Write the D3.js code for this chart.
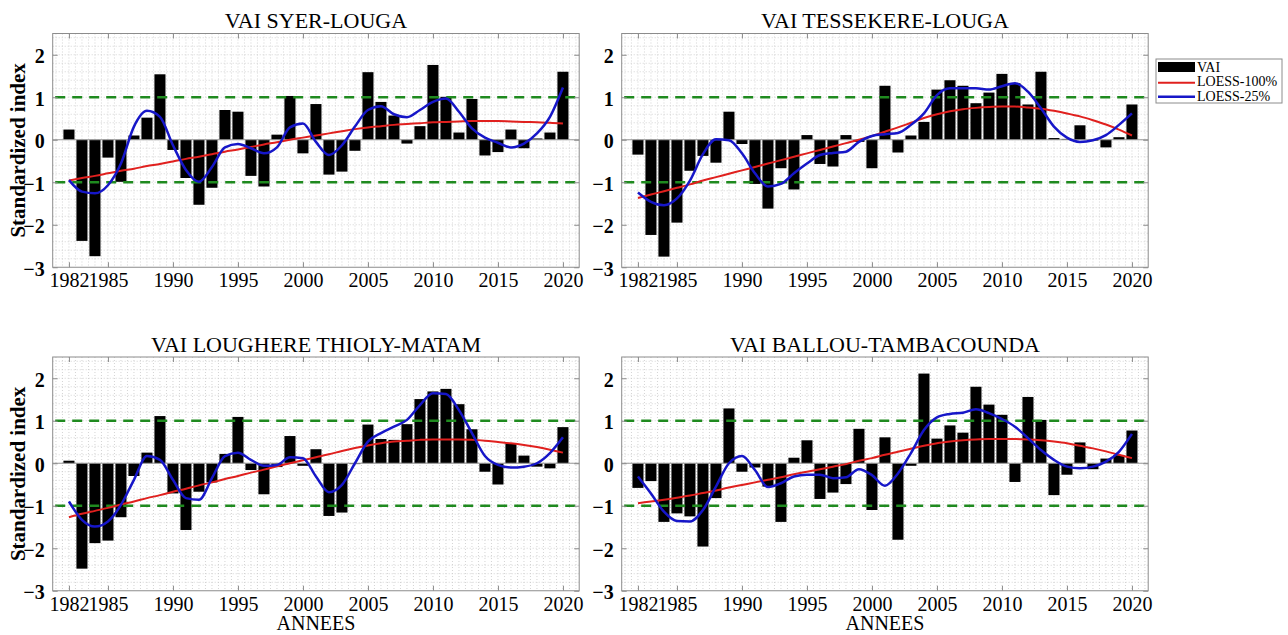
<!DOCTYPE html>
<html>
<head>
<meta charset="utf-8">
<script src="https://cdn.jsdelivr.net/npm/d3@7"></script>
<style>
  html, body { margin: 0; padding: 0; background: #fff; }
  svg { display: block; }
  text { font-family: "Liberation Serif", "Times New Roman", serif; fill: #000; }
</style>
</head>
<body>
<svg id="chart" width="1288" height="635"></svg>
<script>
// Years of the series
const years = d3.range(1982, 2021);

// VAI SYER-LOUGA
const vaiSyer = [0.24,-2.38,-2.74,-0.42,-0.99,0.10,0.52,1.54,-0.24,-0.90,-1.53,-1.13,0.70,0.66,-0.85,-1.10,0.12,1.03,-0.32,0.84,
  -0.82,-0.75,-0.26,1.59,0.89,0.57,-0.09,0.32,1.76,1.01,0.17,0.96,-0.37,-0.29,0.24,-0.20,0.03,0.17,1.60];
const loess100Syer = [-0.96,-0.90,-0.85,-0.79,-0.73,-0.68,-0.62,-0.57,-0.51,-0.45,-0.40,-0.34,-0.28,-0.23,-0.17,-0.11,-0.06,0.00,0.05,0.10,
  0.15,0.20,0.25,0.29,0.32,0.35,0.37,0.39,0.41,0.42,0.43,0.44,0.44,0.44,0.43,0.42,0.41,0.40,0.38];
const loess25Syer = [-0.95,-1.22,-1.26,-1.07,-0.56,0.31,0.68,0.54,-0.13,-0.71,-0.99,-0.64,-0.18,-0.10,-0.20,-0.32,-0.18,0.29,0.38,-0.05,
  -0.36,-0.13,0.31,0.70,0.79,0.60,0.53,0.70,0.89,0.97,0.66,0.27,0.05,-0.07,-0.18,-0.09,0.15,0.54,1.23];

// VAI TESSEKERE-LOUGA
const vaiTessekere = [-0.35,-2.24,-2.75,-1.95,-0.73,-0.38,-0.54,0.66,-0.10,-1.04,-1.62,-0.67,-1.17,0.11,-0.57,-0.63,0.11,-0.05,-0.67,1.27,
  -0.30,0.10,0.42,1.18,1.40,1.27,0.86,1.11,1.55,1.33,0.83,1.60,0.04,0.02,0.34,-0.02,-0.18,0.06,0.83];
const loess100Tessekere = [-1.37,-1.29,-1.21,-1.13,-1.05,-0.96,-0.88,-0.80,-0.72,-0.64,-0.56,-0.48,-0.40,-0.32,-0.24,-0.16,-0.08,0.00,0.09,0.19,
  0.29,0.40,0.51,0.60,0.67,0.72,0.75,0.77,0.78,0.78,0.76,0.73,0.68,0.62,0.55,0.46,0.36,0.24,0.10];
const loess25Tessekere = [-1.24,-1.46,-1.54,-1.38,-0.96,-0.34,0.01,-0.01,-0.32,-0.79,-1.10,-1.04,-0.79,-0.56,-0.36,-0.31,-0.28,-0.05,0.09,0.13,
  0.16,0.35,0.62,1.05,1.21,1.21,1.21,1.18,1.26,1.33,1.13,0.74,0.31,0.05,-0.05,-0.01,0.11,0.35,0.62];

// VAI LOUGHERE THIOLY-MATAM
const vaiLoughere = [0.06,-2.48,-1.88,-1.82,-1.27,-0.30,0.25,1.11,-0.71,-1.57,-0.67,-0.45,0.22,1.09,-0.16,-0.73,-0.09,0.64,-0.06,0.33,
  -1.24,-1.16,-0.02,0.91,0.57,0.55,0.92,1.51,1.69,1.75,1.39,0.80,-0.20,-0.50,0.47,0.18,-0.08,-0.12,0.85];
const loess100Loughere = [-1.27,-1.19,-1.12,-1.05,-0.97,-0.90,-0.82,-0.75,-0.67,-0.60,-0.52,-0.45,-0.37,-0.30,-0.22,-0.15,-0.07,0.00,0.07,0.14,
  0.21,0.29,0.36,0.42,0.47,0.51,0.53,0.55,0.56,0.56,0.56,0.55,0.53,0.50,0.47,0.43,0.38,0.32,0.25];
const loess25Loughere = [-0.90,-1.33,-1.49,-1.37,-0.98,-0.39,0.17,0.08,-0.39,-0.82,-0.86,-0.35,0.17,0.25,0.08,-0.06,-0.04,0.14,0.12,-0.31,
  -0.68,-0.51,0.00,0.51,0.71,0.86,1.02,1.37,1.65,1.63,1.25,0.71,0.17,-0.04,-0.10,-0.08,0.00,0.24,0.61];

// VAI BALLOU-TAMBACOUNDA
const vaiBallou = [-0.58,-0.42,-1.38,-1.18,-1.25,-1.96,-0.82,1.29,-0.20,-0.10,-0.55,-1.38,0.13,0.54,-0.84,-0.69,-0.49,0.81,-1.10,0.61,
  -1.80,-0.06,2.11,0.58,0.89,0.72,1.80,1.38,1.14,-0.44,1.56,1.02,-0.75,-0.27,0.49,-0.14,0.11,0.19,0.77];
const loess100Ballou = [-0.94,-0.90,-0.86,-0.81,-0.76,-0.70,-0.64,-0.57,-0.51,-0.45,-0.39,-0.33,-0.26,-0.20,-0.14,-0.08,-0.02,0.06,0.12,0.20,
  0.27,0.34,0.41,0.47,0.51,0.54,0.56,0.57,0.57,0.57,0.56,0.54,0.51,0.47,0.41,0.35,0.28,0.20,0.12];
const loess25Ballou = [-0.31,-0.71,-1.14,-1.36,-1.37,-1.10,-0.55,0.00,0.17,-0.16,-0.56,-0.47,-0.31,-0.27,-0.27,-0.35,-0.33,-0.14,-0.28,-0.53,
  -0.24,0.24,0.78,1.08,1.16,1.19,1.27,1.18,1.04,0.86,0.59,0.31,0.08,-0.08,-0.12,-0.08,0.04,0.27,0.69];

// Axis ticks and text
const xTicks = [1982, 1985, 1990, 1995, 2000, 2005, 2010, 2015, 2020];
const yTicks = [-3, -2, -1, 0, 1, 2];
const thresholds = [-1, 1];
const titles = ["VAI SYER-LOUGA", "VAI TESSEKERE-LOUGA", "VAI LOUGHERE THIOLY-MATAM", "VAI BALLOU-TAMBACOUNDA"];
const legendLabels = ["VAI", "LOESS-100%", "LOESS-25%"];

const panels = [
  { title: titles[0], vai: vaiSyer, l100: loess100Syer, l25: loess25Syer, left: 52.7, top: 33.5, ylab: true, xlab: false },
  { title: titles[1], vai: vaiTessekere, l100: loess100Tessekere, l25: loess25Tessekere, left: 621.7, top: 33.5, ylab: false, xlab: false },
  { title: titles[2], vai: vaiLoughere, l100: loess100Loughere, l25: loess25Loughere, left: 52.7, top: 357, ylab: true, xlab: true },
  { title: titles[3], vai: vaiBallou, l100: loess100Ballou, l25: loess25Ballou, left: 621.7, top: 357, ylab: false, xlab: true }
];

const W = 526.5, H = 233.75;
const RED = "#e0201e", BLUE = "#1616c8", GREEN = "#1f8a1f";
const svg = d3.select("#chart");

panels.forEach(p => {
  const x = d3.scaleLinear().domain([1980.75, 2021.25]).range([0, W]);
  const y = d3.scaleLinear().domain([-3, 2.5]).range([H, 0]);
  const g = svg.append("g").attr("transform", `translate(${p.left},${p.top})`);

  g.append("rect").attr("width", W).attr("height", H).attr("fill", "#fff");

  // dotted grid
  const gx = d3.range(1981, 2021.01, 0.5);
  const gy = d3.range(-2.8, 2.45, 0.2);
  g.append("g").selectAll("line").data(gx).join("line")
    .attr("x1", d => x(d)).attr("x2", d => x(d)).attr("y1", 0).attr("y2", H)
    .attr("stroke", "#c9c9c9").attr("stroke-width", 0.8).attr("stroke-dasharray", "1,2");
  g.append("g").selectAll("line").data(gy).join("line")
    .attr("x1", 0).attr("x2", W).attr("y1", d => y(d)).attr("y2", d => y(d))
    .attr("stroke", "#c9c9c9").attr("stroke-width", 0.8).attr("stroke-dasharray", "1,2");

  // bars
  const bw = 0.85 * (x(1) - x(0));
  g.append("g").selectAll("rect").data(years.map((yr, i) => ({ yr, v: p.vai[i] }))).join("rect")
    .attr("x", d => x(d.yr) - bw / 2).attr("width", bw)
    .attr("y", d => y(Math.max(0, d.v))).attr("height", d => Math.abs(y(d.v) - y(0)))
    .attr("fill", "#000");

  // baseline
  g.append("line").attr("x1", 0).attr("x2", W).attr("y1", y(0)).attr("y2", y(0))
    .attr("stroke", "#999").attr("stroke-width", 1);

  // +/-1 thresholds
  g.append("g").selectAll("line").data(thresholds).join("line")
    .attr("x1", 0).attr("x2", W).attr("y1", d => y(d)).attr("y2", d => y(d))
    .attr("stroke", GREEN).attr("stroke-width", 2.5).attr("stroke-dasharray", "10,7")
    .attr("stroke-dashoffset", -2.5);

  // LOESS curves
  const line = d3.line().x((d, i) => x(years[i])).y(d => y(d)).curve(d3.curveMonotoneX);
  g.append("path").attr("d", line(p.l100)).attr("fill", "none").attr("stroke", RED).attr("stroke-width", 2);
  g.append("path").attr("d", line(p.l25)).attr("fill", "none").attr("stroke", BLUE).attr("stroke-width", 2.5);

  // frame
  g.append("rect").attr("width", W).attr("height", H).attr("fill", "none").attr("stroke", "#8c8c8c").attr("stroke-width", 1);

  // axes
  const xb = g.append("g").attr("transform", `translate(0,${H})`)
    .call(d3.axisBottom(x).tickValues(xTicks).tickFormat(d3.format("d")).tickSizeInner(-5).tickSizeOuter(0).tickPadding(6));
  const xt = g.append("g").call(d3.axisTop(x).tickValues(xTicks).tickFormat("").tickSizeInner(-5).tickSizeOuter(0));
  const yl = g.append("g").call(d3.axisLeft(y).tickValues(yTicks).tickFormat(d3.format("d")).tickSizeInner(-5).tickSizeOuter(0).tickPadding(8));
  const yr = g.append("g").attr("transform", `translate(${W},0)`)
    .call(d3.axisRight(y).tickValues(yTicks).tickFormat("").tickSizeInner(-5).tickSizeOuter(0));
  [xb, xt, yl, yr].forEach(a => {
    a.select(".domain").remove();
    a.selectAll(".tick line").attr("stroke", "#8c8c8c");
    a.selectAll(".tick text").attr("font-family", "Liberation Serif").attr("font-size", 20).attr("fill", "#000");
  });
  yl.selectAll(".tick text").attr("font-weight", "bold").attr("dy", "0.4em");
  xb.selectAll(".tick text").attr("dy", "0.71em");

  // title
  g.append("text").attr("x", W / 2).attr("y", -5.5).attr("text-anchor", "middle")
    .attr("font-size", 22).text(p.title);

  if (p.ylab) {
    g.append("text").attr("transform", `translate(${25 - p.left},${H / 2}) rotate(-90)`)
      .attr("text-anchor", "middle").attr("font-size", 21).attr("font-weight", "bold").text("Standardized index");
  }
  if (p.xlab) {
    g.append("text").attr("x", W / 2).attr("y", 630 - p.top).attr("text-anchor", "middle")
      .attr("font-size", 20).text("ANNEES");
  }
});

// legend
const lg = svg.append("g").attr("transform", "translate(1156,59)");
lg.append("rect").attr("width", 126).attr("height", 44).attr("fill", "#fff").attr("stroke", "#8c8c8c");
lg.append("rect").attr("x", 2).attr("y", 3).attr("width", 37).attr("height", 10).attr("fill", "#000");
lg.append("line").attr("x1", 2).attr("x2", 39).attr("y1", 23.7).attr("y2", 23.7).attr("stroke", RED).attr("stroke-width", 2);
lg.append("line").attr("x1", 2).attr("x2", 39).attr("y1", 37.7).attr("y2", 37.7).attr("stroke", BLUE).attr("stroke-width", 2.5);
lg.selectAll("text.lab").data(legendLabels).join("text").attr("class", "lab")
  .attr("x", 41).attr("y", (d, i) => 13 + i * 14.4).attr("font-size", 14).text(d => d);
</script>
</body>
</html>
